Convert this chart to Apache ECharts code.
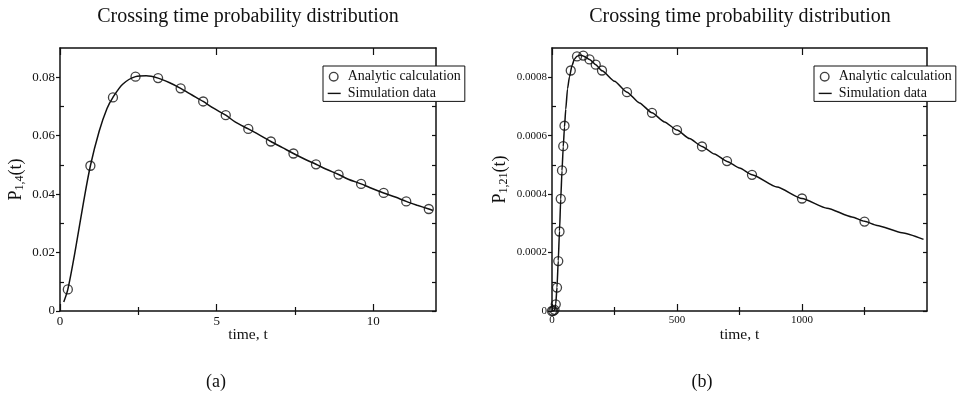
<!DOCTYPE html>
<html>
<head>
<meta charset="utf-8">
<script src="https://cdn.jsdelivr.net/npm/echarts@6/dist/echarts.min.js"></script>
<style>
  html, body { margin: 0; padding: 0; background: #fff; }
  #chart { width: 959px; height: 394px; }
</style>
</head>
<body>
<div id="chart"></div>
<script>
// ---- Panel (a): P_{1,4}(t) ----
const analyticTimeA = [0.25, 0.97, 1.69, 2.41, 3.13, 3.85, 4.57, 5.29, 6.01, 6.73, 7.45, 8.17, 8.89, 9.61, 10.33, 11.05, 11.77];
const analyticProbA = [0.0074, 0.0497, 0.0731, 0.0802, 0.0797, 0.0762, 0.0717, 0.0670, 0.0623, 0.0580, 0.0539, 0.0502, 0.0467, 0.0435, 0.0404, 0.0375, 0.0349];
const simTimeA = [0.12, 0.25, 0.5, 0.75, 0.97, 1.25, 1.5, 1.69, 2.0, 2.41, 2.75, 3.13, 3.5, 3.85, 4.2, 4.57, 4.9, 5.29, 5.6, 6.01, 6.4, 6.73, 7.1, 7.45, 7.8, 8.17, 8.5, 8.89, 9.2, 9.61, 9.9, 10.33, 10.7, 11.05, 11.4, 11.77, 11.9];
const simProbA = [0.0031, 0.0074, 0.0215, 0.0372, 0.0497, 0.0615, 0.0693, 0.0731, 0.0776, 0.0802, 0.0805, 0.0797, 0.0781, 0.0762, 0.0740, 0.0717, 0.0694, 0.0670, 0.0646, 0.0623, 0.0600, 0.0580, 0.0559, 0.0539, 0.0520, 0.0502, 0.0485, 0.0467, 0.0451, 0.0435, 0.0422, 0.0404, 0.0390, 0.0375, 0.0362, 0.0349, 0.0344];
const xMajorA = [0, 5, 10];
const xMinorA = [2.5, 7.5];
const yMajorA = [0, 0.02, 0.04, 0.06, 0.08];
const yMinorA = [0.01, 0.03, 0.05, 0.07];

// ---- Panel (b): P_{1,21}(t) ----
const analyticTimeB = [0, 5, 10, 15, 20, 25, 30, 35, 40, 45, 50, 75, 100, 125, 150, 175, 200, 300, 400, 500, 600, 700, 800, 1000, 1250];
const analyticProbB = [0, 0.0000002, 0.000004, 0.000023, 0.00008, 0.000171, 0.000272, 0.000384, 0.000481, 0.000564, 0.000634, 0.000823, 0.000871, 0.000874, 0.000861, 0.000843, 0.000823, 0.000749, 0.000678, 0.000619, 0.000563, 0.000513, 0.000466, 0.000385, 0.000306];
const simTimeB = [0, 8, 12, 15, 20, 25, 30, 35, 40, 45, 50, 55, 62, 70, 80, 90, 100, 112, 125, 150, 175, 200, 250, 300, 350, 400, 450, 500, 550, 600, 650, 700, 750, 800, 900, 1000, 1100, 1200, 1250, 1300, 1400, 1486];
const simProbB = [0, 0.000001, 0.000008, 0.000024, 0.000081, 0.000172, 0.000274, 0.000383, 0.00048, 0.000562, 0.00063, 0.00069, 0.00076, 0.000802, 0.00084, 0.000862, 0.000872, 0.000876, 0.000873, 0.000861, 0.000843, 0.000822, 0.000786, 0.000749, 0.000712, 0.000678, 0.000647, 0.000619, 0.00059, 0.000563, 0.000537, 0.000512, 0.000489, 0.000466, 0.000424, 0.000385, 0.000352, 0.000322, 0.000307, 0.000293, 0.000268, 0.000245];
const xMajorB = [0, 500, 1000];
const xMinorB = [250, 750, 1250];
const yMajorB = [0, 0.0002, 0.0004, 0.0006, 0.0008];
const yMinorB = [0.0001, 0.0003, 0.0005, 0.0007];

const titleText = 'Crossing time probability distribution';
const xName = 'time, t';
const seriesAnalytic = 'Analytic calculation';
const seriesSim = 'Simulation data';

const FONT = '"Liberation Serif", "Times New Roman", serif';
const INK = '#111';
const zip = (xs, ys) => xs.map((x, i) => [x, ys[i]]);
const fmt = v => String(+(+v).toPrecision(6));

const axisLine = { show: true, onZero: false, lineStyle: { color: INK, width: 1.5 } };
const noLine = { show: false };

function xAxes(grid, max, major, minor, labelSize) {
  return [
    { // bottom, labelled
      type: 'value', gridIndex: grid, position: 'bottom', min: 0, max: max,
      axisLine: axisLine, splitLine: { show: false },
      axisTick: { show: true, inside: true, length: 7, customValues: major, lineStyle: { color: INK, width: 1.2 } },
      axisLabel: { customValues: major, formatter: fmt, margin: 4, color: INK, fontFamily: FONT, fontSize: labelSize },
      name: xName, nameLocation: 'middle', nameGap: 16, nameMoveOverlap: false,
      nameTextStyle: { fontFamily: FONT, fontSize: 15.5, color: INK }
    },
    { // bottom minor ticks
      type: 'value', gridIndex: grid, position: 'bottom', min: 0, max: max,
      axisLine: noLine, splitLine: { show: false }, axisLabel: { show: false },
      axisTick: { show: true, inside: true, length: 4, customValues: minor, lineStyle: { color: INK, width: 1.2 } }
    },
    { // top frame
      type: 'value', gridIndex: grid, position: 'top', min: 0, max: max,
      axisLine: axisLine, splitLine: { show: false }, axisLabel: { show: false },
      axisTick: { show: true, inside: true, length: 7, customValues: major, lineStyle: { color: INK, width: 1.2 } }
    },
    {
      type: 'value', gridIndex: grid, position: 'top', min: 0, max: max,
      axisLine: noLine, splitLine: { show: false }, axisLabel: { show: false },
      axisTick: { show: true, inside: true, length: 4, customValues: minor, lineStyle: { color: INK, width: 1.2 } }
    }
  ];
}

function yAxes(grid, max, major, minor, labelSize, nameRich, nameGap) {
  return [
    { // left, labelled; major ticks point outward
      type: 'value', gridIndex: grid, position: 'left', min: 0, max: max,
      axisLine: axisLine, splitLine: { show: false },
      axisTick: { show: true, inside: false, length: 4, customValues: major, lineStyle: { color: INK, width: 1.2 } },
      axisLabel: { customValues: major, formatter: fmt, margin: 5, color: INK, fontFamily: FONT, fontSize: labelSize },
      name: nameRich, nameLocation: 'middle', nameRotate: 90, nameGap: nameGap,
      nameTextStyle: {
        color: INK, fontFamily: FONT,
        rich: {
          m: { fontFamily: FONT, fontSize: 18, color: INK },
          s: { fontFamily: FONT, fontSize: 12, color: INK, padding: [8, 0, 0, 0] }
        }
      }
    },
    { // left minor ticks, inward
      type: 'value', gridIndex: grid, position: 'left', min: 0, max: max,
      axisLine: noLine, splitLine: { show: false }, axisLabel: { show: false },
      axisTick: { show: true, inside: true, length: 4, customValues: minor, lineStyle: { color: INK, width: 1.2 } }
    },
    { // right frame
      type: 'value', gridIndex: grid, position: 'right', min: 0, max: max,
      axisLine: axisLine, splitLine: { show: false }, axisLabel: { show: false },
      axisTick: { show: true, inside: true, length: 4, customValues: major.concat(minor), lineStyle: { color: INK, width: 1.2 } }
    }
  ];
}

// legend glyphs: hollow ring and a short solid dash, both inside a 14x14 box
const circleIcon = 'path://M0,0 M14,14 M11.3,7 A4.3,4.3 0 1,1 2.7,7 A4.3,4.3 0 1,1 11.3,7 Z';
const dashIcon = 'path://M0,0 M14,14 M1,6.3 L14,6.3 L14,7.7 L1,7.7 Z';

function legendAt(left) {
  return {
    left: left, top: 66, orient: 'vertical',
    backgroundColor: '#fff', borderColor: INK, borderWidth: 1, borderRadius: 0,
    padding: [3, 4, 1, 3], itemGap: 2, itemWidth: 14, itemHeight: 14,
    selectedMode: false,
    textStyle: { fontFamily: FONT, fontSize: 14, color: INK, padding: [0, 0, 0, 2] },
    data: [
      { name: seriesAnalytic, icon: circleIcon, itemStyle: { color: 'rgba(0,0,0,0)', borderColor: INK, borderWidth: 1.4 } },
      { name: seriesSim, icon: dashIcon, itemStyle: { color: INK, borderWidth: 0 } }
    ]
  };
}

const scatterStyle = { color: 'rgba(0,0,0,0)', borderColor: INK, borderWidth: 1.3 };
const lineStyle = { color: INK, width: 1.5 };

const option = {
  animation: false,
  backgroundColor: '#fff',
  title: [
    { text: titleText, left: 248, top: 7, textAlign: 'center', padding: 0,
      textStyle: { fontFamily: FONT, fontSize: 20, fontWeight: 'normal', color: INK } },
    { text: titleText, left: 740, top: 7, textAlign: 'center', padding: 0,
      textStyle: { fontFamily: FONT, fontSize: 20, fontWeight: 'normal', color: INK } },
    { text: '(a)', left: 216, top: 373, textAlign: 'center', padding: 0,
      textStyle: { fontFamily: FONT, fontSize: 18, fontWeight: 'normal', color: INK } },
    { text: '(b)', left: 702, top: 373, textAlign: 'center', padding: 0,
      textStyle: { fontFamily: FONT, fontSize: 18, fontWeight: 'normal', color: INK } }
  ],
  legend: [legendAt(323), legendAt(814)],
  grid: [
    { left: 60, top: 48, width: 376, height: 263, containLabel: false },
    { left: 552, top: 48, width: 375, height: 263, containLabel: false }
  ],
  xAxis: xAxes(0, 12, xMajorA, xMinorA, 13).concat(xAxes(1, 1500, xMajorB, xMinorB, 11)),
  yAxis: yAxes(0, 0.09, yMajorA, yMinorA, 13, '{m|P}{s|1,4}{m|(t)}', 34)
    .concat(yAxes(1, 0.0009, yMajorB, yMinorB, 11, '{m|P}{s|1,21}{m|(t)}', 42)),
  series: [
    { name: seriesSim, type: 'line', xAxisIndex: 0, yAxisIndex: 0, data: zip(simTimeA, simProbA),
      showSymbol: false, symbol: 'none', smooth: 0.3, lineStyle: lineStyle, itemStyle: { color: INK } },
    { name: seriesAnalytic, type: 'scatter', xAxisIndex: 0, yAxisIndex: 0, data: zip(analyticTimeA, analyticProbA),
      symbol: 'circle', symbolSize: 9, itemStyle: scatterStyle, z: 3 },
    { name: seriesSim, type: 'line', xAxisIndex: 4, yAxisIndex: 3, data: zip(simTimeB, simProbB),
      showSymbol: false, symbol: 'none', smooth: 0.2, smoothMonotone: 'x', lineStyle: lineStyle, itemStyle: { color: INK } },
    { name: seriesAnalytic, type: 'scatter', xAxisIndex: 4, yAxisIndex: 3, data: zip(analyticTimeB, analyticProbB),
      symbol: 'circle', symbolSize: 9, itemStyle: scatterStyle, z: 3 }
  ]
};

const chart = echarts.init(document.getElementById('chart'), null, { renderer: 'canvas' });
chart.setOption(option);
</script>
</body>
</html>
